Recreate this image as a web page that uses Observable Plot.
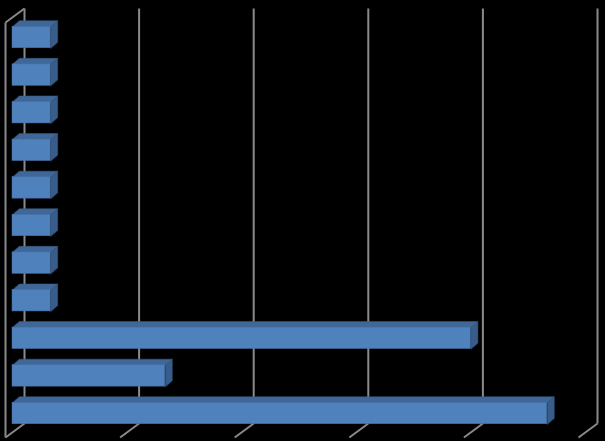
<!DOCTYPE html>
<html>
<head>
<meta charset="utf-8">
<script src="https://cdn.jsdelivr.net/npm/d3@7"></script>
<script src="https://cdn.jsdelivr.net/npm/@observablehq/plot@0.6"></script>
<style>
  html, body { margin: 0; padding: 0; background: #000; }
  #chart { width: 605px; height: 441px; }
</style>
</head>
<body>
<div id="chart"></div>
<script>
// Categories from bottom to top, and their values
const categories = ["1", "2", "3", "4", "5", "6", "7", "8", "9", "10", "11"];
const values = [14, 4, 12, 1, 1, 1, 1, 1, 1, 1, 1];
const gridTicks = [0, 3, 6, 9, 12, 15];

const W = 605, H = 441;
const mL = 12, mR = 20, mT = 18.2, mB = 9.2;
const xMax = 15;
const kx = (W - mL - mR) / xMax;                 // px per x unit
const ky = (H - mT - mB) / categories.length;    // px per row

// 3D depth (pixels) converted into data units
const barDx = 7 / kx, barDy = 6 / ky;            // bar extrusion
const wallBack = 12 / kx;                        // back wall offset from bar front
const wallFrontX = -7 / kx;                      // front plane offset
const floorRow = -0.266, floorFrontRow = floorRow - 14 / ky;
const topRow = 10.771, topFrontRow = topRow - 14 / ky;
const half = 0.286;                              // half bar thickness in rows

const bars = values.map((v, i) => ({cat: categories[i], v, r: i}));

const topFaces = bars.flatMap(b => [
  {id: b.cat, x: 0, y: b.r + half},
  {id: b.cat, x: b.v, y: b.r + half},
  {id: b.cat, x: b.v + barDx, y: b.r + half + barDy},
  {id: b.cat, x: barDx, y: b.r + half + barDy}
]);
const sideFaces = bars.flatMap(b => [
  {id: b.cat, x: b.v, y: b.r - half},
  {id: b.cat, x: b.v, y: b.r + half},
  {id: b.cat, x: b.v + barDx, y: b.r + half + barDy},
  {id: b.cat, x: b.v + barDx, y: b.r - half + barDy}
]);

const gray = "#8a8a8a";

const plot = Plot.plot({
  width: W,
  height: H,
  marginLeft: mL, marginRight: mR, marginTop: mT, marginBottom: mB,
  style: {background: "#000"},
  x: {domain: [0, xMax], axis: null},
  y: {domain: [-0.5, categories.length - 0.5], axis: null},
  marks: [
    // back wall gridlines
    Plot.link(gridTicks, {x1: t => t + wallBack, x2: t => t + wallBack, y1: floorRow, y2: topRow, stroke: gray, strokeWidth: 2}),
    // floor diagonals
    Plot.link(gridTicks, {x1: t => t + wallBack, y1: floorRow, x2: t => t + wallFrontX, y2: floorFrontRow, stroke: gray, strokeWidth: 2}),
    // left wall front edge and top edge
    Plot.link([0], {x1: wallFrontX, y1: floorFrontRow, x2: wallFrontX, y2: topFrontRow, stroke: gray, strokeWidth: 2}),
    Plot.link([0], {x1: wallFrontX, y1: topFrontRow, x2: wallBack, y2: topRow, stroke: gray, strokeWidth: 2}),
    // bar side faces
    Plot.line(sideFaces, {x: "x", y: "y", z: "id", fill: "#385d8a", stroke: "#34567f", strokeWidth: 0.5, curve: "linear-closed"}),
    // bar top faces
    Plot.line(topFaces, {x: "x", y: "y", z: "id", fill: "#3f6797", stroke: "#3a5f8c", strokeWidth: 0.5, curve: "linear-closed"}),
    // bar front faces
    Plot.rect(bars, {x1: 0, x2: "v", y1: d => d.r - half, y2: d => d.r + half, fill: "#4f81bd", stroke: "#456fa3", strokeWidth: 0.5})
  ]
});
document.getElementById("chart").appendChild(plot);
</script>
</body>
</html>
